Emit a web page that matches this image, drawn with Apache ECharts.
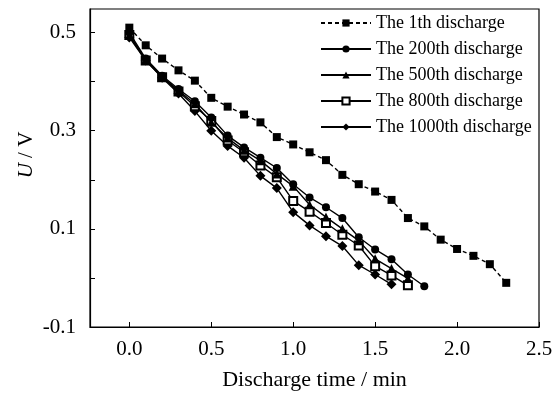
<!DOCTYPE html>
<html><head><meta charset="utf-8">
<script src="https://cdn.jsdelivr.net/npm/echarts@6/dist/echarts.min.js"></script>
<style>html,body{margin:0;padding:0;background:#fff}#c{width:558px;height:396px}</style>
</head><body><div id="c"></div>
<script>
var times = [0,0.1,0.2,0.3,0.4,0.5,0.6,0.7,0.8,0.9,1.0,1.1,1.2,1.3,1.4,1.5,1.6,1.7,1.8,1.9,2.0,2.1,2.2,2.3];
var names = ['The 1th discharge','The 200th discharge','The 500th discharge','The 800th discharge','The 1000th discharge'];
var u1 = [0.51,0.474,0.447,0.423,0.402,0.367,0.349,0.333,0.317,0.287,0.272,0.256,0.240,0.210,0.191,0.176,0.159,0.122,0.105,0.078,0.059,0.045,0.028,-0.010];
var u200 = [0.50,0.447,0.412,0.385,0.36,0.327,0.29,0.266,0.245,0.224,0.191,0.164,0.144,0.122,0.083,0.058,0.038,0.007,-0.017];
var u500 = [0.495,0.445,0.41,0.382,0.355,0.317,0.285,0.26,0.239,0.212,0.187,0.149,0.124,0.10,0.076,0.039,0.019,-0.001];
var u800 = [0.495,0.443,0.409,0.38,0.35,0.32,0.28,0.256,0.229,0.205,0.157,0.135,0.112,0.088,0.066,0.024,0.005,-0.015];
var u1000 = [0.49,0.443,0.408,0.376,0.34,0.30,0.269,0.245,0.208,0.183,0.134,0.107,0.085,0.065,0.026,0.007,-0.013];
var xTicks = [0,0.5,1.0,1.5,2.0,2.5];
var yTicks = [-0.1,0,0.1,0.2,0.3,0.4,0.5];
var yLabels = [-0.1,0.1,0.3,0.5];

function pairs(u){ return u.map(function(v,i){ return [times[i], v]; }); }
var FONT = 'Liberation Serif';
var symbols = ['rect','circle','triangle','emptyRect','diamond'];
var sizes = [8,8,9,8,10];
var dataSets = [u1,u200,u500,u800,u1000];

var series = dataSets.map(function(u,i){
  return {
    name: names[i], type:'line', data: pairs(u),
    symbol: symbols[i], symbolSize: sizes[i], showSymbol:true,
    itemStyle:{color:'#000', borderColor:'#000', borderWidth: i===3?1.6:0},
    lineStyle:{color:'#000', width:1.4, type: i===0 ? [4,3] : 'solid'},
    animation:false, z: 5 - i
  };
});

var chart = echarts.init(document.getElementById('c'));
chart.setOption({
  backgroundColor:'#fff',
  animation:false,
  grid:{left:90,right:19,top:9,bottom:68,show:true,borderColor:'#000',borderWidth:1.2,backgroundColor:'transparent'},
  legend:{
    orient:'vertical', left:315, top:9, itemWidth:50, itemHeight:9, itemGap:8,
    data:names, textStyle:{fontFamily:FONT,fontSize:18,color:'#000'}
  },
  xAxis:{
    type:'value', min:-0.24, max:2.5,
    name:'Discharge time / min', nameLocation:'middle', nameGap:42,
    nameTextStyle:{fontFamily:FONT,fontSize:22,color:'#000'},
    axisLine:{onZero:false,lineStyle:{color:'#000',width:1.2}},
    axisTick:{inside:true,length:5,customValues:xTicks,lineStyle:{color:'#000'}},
    axisLabel:{customValues:xTicks,margin:12,fontFamily:FONT,fontSize:21,color:'#000',
      formatter:function(v){return v.toFixed(1);}},
    splitLine:{show:false}
  },
  yAxis:{
    type:'value', min:-0.1, max:0.548,
    axisLine:{onZero:false,lineStyle:{color:'#000',width:1.2}},
    axisTick:{inside:true,length:5,customValues:yTicks,lineStyle:{color:'#000'}},
    axisLabel:{customValues:yLabels,margin:14,fontFamily:FONT,fontSize:21,color:'#000',
      formatter:function(v){return v.toFixed(1);}},
    splitLine:{show:false}
  },
  graphic:[{
    type:'text', x:26, y:155, rotation:Math.PI/2,
    style:{text:'{i|U} / V', align:'center', verticalAlign:'middle', font:'21px "Liberation Serif"', fill:'#000',
      rich:{i:{fontStyle:'italic', fontFamily:FONT, fontSize:21, fill:'#000'}}}
  }],
  series:series
});
</script></body></html>
